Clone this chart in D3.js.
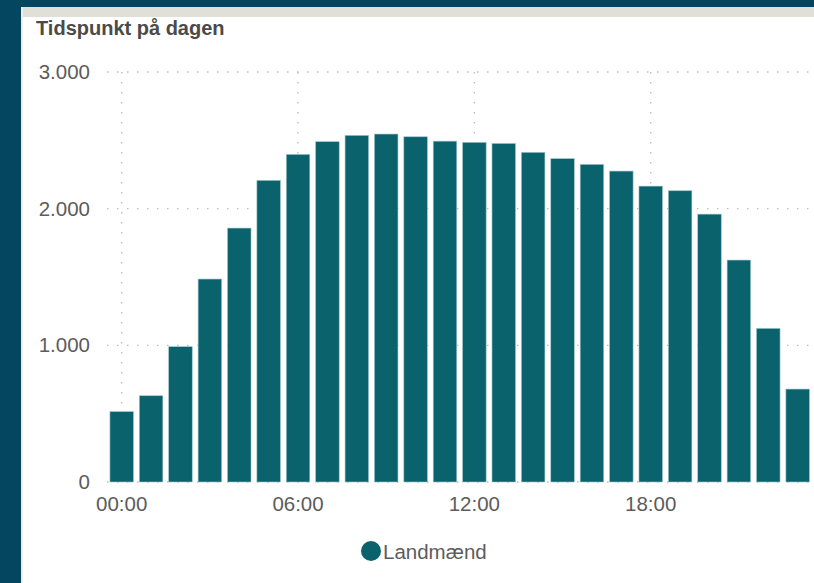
<!DOCTYPE html>
<html>
<head>
<meta charset="utf-8">
<script src="https://cdn.jsdelivr.net/npm/d3@7"></script>
<style>
  body { margin: 0; background: #04465f; }
  svg { display: block; font-family: "Liberation Sans", Arial, sans-serif; }
  .grid line { stroke: #bdbdbd; stroke-width: 1.4; stroke-dasharray: 1.5 8.5; }
  .tick-label { fill: #5c5c5c; font-size: 20.5px; }
  .title { fill: #4a4a4a; font-size: 20px; font-weight: bold; }
</style>
</head>
<body>
<div id="chart"></div>
<script>
// hours of the day, one bar each
const hours = d3.range(24).map(h => String(h).padStart(2, '0') + ':00');
// number of farmers (Landmænd) per hour
const values = [515, 631, 990, 1485, 1858, 2207, 2397, 2490, 2536, 2546, 2526, 2494,
                2485, 2477, 2412, 2366, 2324, 2275, 2165, 2131, 1960, 1624, 1124, 680];
const xTickLabels = ['00:00', '06:00', '12:00', '18:00'];
const yTicks = [0, 1000, 2000, 3000];
const seriesName = 'Landmænd';
const title = 'Tidspunkt på dagen';

const width = 814, height = 583;
const barColor = '#0a626d';

const svg = d3.select('#chart').append('svg')
  .attr('width', width)
  .attr('height', height);

// dark frame, then the light panel with its grey header strip
svg.append('rect').attr('width', width).attr('height', height).attr('fill', '#04465f');
svg.append('rect').attr('x', 21).attr('y', 7).attr('width', width - 21).attr('height', height - 7).attr('fill', '#fff');
svg.append('rect').attr('x', 21).attr('y', 7).attr('width', width - 21).attr('height', 10).attr('fill', '#e0e0d8');
svg.append('rect').attr('x', 21).attr('y', 7).attr('width', 2).attr('height', height - 7).attr('fill', '#eeeeea');

svg.append('text')
  .attr('class', 'title')
  .attr('x', 36)
  .attr('y', 35)
  .text(title);

// plot area
const x = d3.scaleBand()
  .domain(hours)
  .range([107, 107 + 24 * 29.39])
  .paddingInner(0.2)
  .paddingOuter(0.1);

const y = d3.scaleLinear()
  .domain([0, 3000])
  .range([482, 72]);

const fmt = d3.formatLocale({ decimal: ',', thousands: '.', grouping: [3], currency: ['', ' kr.'] }).format(',d');

const grid = svg.append('g').attr('class', 'grid');

grid.selectAll('.hgrid')
  .data(yTicks)
  .enter().append('line')
    .attr('class', 'hgrid')
    .attr('x1', 107)
    .attr('x2', width)
    .attr('y1', d => y(d))
    .attr('y2', d => y(d));

grid.selectAll('.vgrid')
  .data(xTickLabels)
  .enter().append('line')
    .attr('class', 'vgrid')
    .attr('x1', d => x(d) + x.bandwidth() / 2)
    .attr('x2', d => x(d) + x.bandwidth() / 2)
    .attr('y1', y(3000))
    .attr('y2', y(0));

// y tick labels
svg.append('g').selectAll('text')
  .data(yTicks)
  .enter().append('text')
    .attr('class', 'tick-label')
    .attr('text-anchor', 'end')
    .attr('x', 90)
    .attr('y', d => y(d) + 7)
    .text(d => fmt(d));

// bars
svg.append('g').selectAll('rect')
  .data(values)
  .enter().append('rect')
    .attr('x', (d, i) => x(hours[i]))
    .attr('y', d => y(d))
    .attr('width', x.bandwidth())
    .attr('height', d => y(0) - y(d))
    .attr('fill', barColor)
    .attr('stroke', '#9cc3c7')
    .attr('stroke-width', 0.6);

// x tick labels
svg.append('g').selectAll('text')
  .data(xTickLabels)
  .enter().append('text')
    .attr('class', 'tick-label')
    .attr('text-anchor', 'middle')
    .attr('x', d => x(d) + x.bandwidth() / 2)
    .attr('y', 510.5)
    .text(d => d);

// legend
const legend = svg.append('g').attr('transform', 'translate(371, 551)');
legend.append('circle').attr('r', 10).attr('fill', barColor);
legend.append('text')
  .attr('class', 'tick-label')
  .attr('x', 12)
  .attr('y', 7.5)
  .text(seriesName);
</script>
</body>
</html>
